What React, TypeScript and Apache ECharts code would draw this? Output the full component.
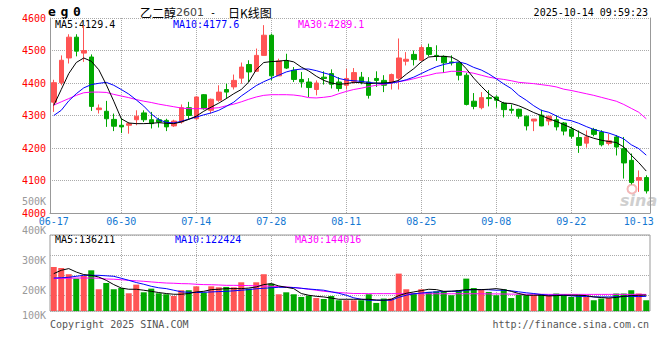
import React, { useEffect, useRef } from 'react';
import * as echarts from 'echarts';

const dates = ['06-17','06-18','06-19','06-20','06-23','06-24','06-25','06-26','06-27','06-30',
'07-01','07-02','07-03','07-04','07-07','07-08','07-09','07-10','07-11','07-14',
'07-15','07-16','07-17','07-18','07-21','07-22','07-23','07-24','07-25','07-28',
'07-29','07-30','07-31','08-01','08-04','08-05','08-06','08-07','08-08','08-11',
'08-12','08-13','08-14','08-15','08-18','08-19','08-20','08-21','08-22','08-25',
'08-26','08-27','08-28','08-29','09-01','09-02','09-03','09-04','09-05','09-08',
'09-09','09-10','09-11','09-12','09-15','09-16','09-17','09-18','09-19','09-22',
'09-23','09-24','09-25','09-26','09-29','09-30','10-09','10-10','10-13','10-14'];

const opens = [4341,4401,4477,4541,4492,4480,4318,4313,4288,4270,
4270,4287,4308,4287,4287,4285,4268,4280,4324,4290,
4364,4316,4347,4380,4388,4415,4457,4436,4485,4547,
4422,4468,4439,4411,4403,4380,4418,4429,4403,4393,
4405,4418,4403,4414,4408,4403,4415,4467,4488,4470,
4509,4485,4482,4465,4462,4424,4344,4324,4355,4357,
4338,4319,4319,4298,4283,4301,4283,4287,4277,4258,
4232,4215,4257,4249,4214,4234,4198,4162,4101,4109];

const closes = [4401,4470,4541,4498,4500,4328,4323,4290,4267,4265,
4275,4298,4287,4275,4280,4265,4283,4324,4300,4357,
4321,4350,4372,4372,4408,4449,4434,4485,4547,4422,
4468,4446,4411,4403,4386,4400,4414,4396,4383,4414,
4432,4403,4362,4408,4393,4426,4477,4473,4472,4509,
4488,4482,4462,4462,4424,4334,4328,4355,4352,4347,
4318,4316,4298,4268,4289,4268,4298,4265,4252,4236,
4208,4234,4242,4210,4222,4203,4154,4094,4109,4068];

const lows = [4311,4393,4460,4482,4465,4314,4306,4265,4252,4246,
4244,4270,4280,4260,4263,4252,4265,4275,4287,4287,
4318,4306,4342,4352,4380,4398,4403,4434,4485,4408,
4422,4443,4403,4386,4357,4362,4395,4383,4374,4380,
4398,4396,4352,4388,4372,4380,4380,4454,4454,4468,
4482,4468,4431,4454,4408,4331,4319,4319,4328,4324,
4294,4306,4290,4254,4252,4267,4270,4254,4239,4229,
4185,4201,4236,4205,4208,4177,4106,4088,4065,4060];

const highs = [4410,4485,4550,4550,4578,4488,4334,4345,4306,4293,
4280,4316,4316,4311,4293,4290,4287,4334,4342,4359,
4366,4352,4393,4398,4426,4463,4470,4506,4578,4552,
4475,4490,4449,4434,4415,4408,4436,4442,4418,4444,
4446,4434,4418,4436,4424,4429,4537,4495,4500,4516,
4521,4516,4485,4485,4465,4431,4369,4372,4378,4362,
4342,4334,4321,4300,4289,4318,4298,4301,4280,4265,
4254,4254,4262,4255,4244,4240,4234,4183,4131,4116];

const ma5 = [4331,4380,4429,4463,4477,4467,4441,4395,4344,4290,
4277,4275,4275,4276,4278,4276,4275,4280,4288,4298,
4313,4326,4338,4352,4367,4380,4403,4441,4463,4466,
4467,4470,4465,4449,4437,4421,4408,4400,4396,4398,
4402,4401,4398,4400,4400,4402,4408,4427,4444,4465,
4480,4482,4482,4480,4468,4444,4415,4390,4367,4350,
4338,4337,4330,4320,4309,4300,4290,4282,4272,4262,
4250,4238,4230,4224,4220,4217,4203,4178,4155,4129];

const ma10 = [4300,4316,4345,4367,4385,4395,4399,4402,4393,4380,
4366,4348,4329,4305,4287,4279,4277,4282,4289,4295,
4302,4308,4316,4328,4341,4360,4376,4392,4404,4414,
4424,4434,4440,4443,4443,4438,4431,4425,4414,4409,
4407,4405,4402,4399,4398,4400,4404,4410,4418,4429,
4440,4450,4457,4462,4465,4459,4448,4440,4428,4413,
4397,4383,4362,4347,4330,4316,4310,4299,4288,4284,
4276,4266,4257,4251,4246,4238,4228,4210,4198,4178];

const ma30 = [4332,4342,4352,4362,4370,4372,4372,4371,4365,4360,
4355,4349,4344,4340,4335,4331,4327,4323,4321,4321,
4321,4322,4324,4330,4335,4342,4350,4357,4362,4364,
4364,4364,4363,4360,4355,4354,4356,4359,4367,4374,
4380,4384,4389,4393,4396,4400,4404,4408,4413,4419,
4424,4430,4432,4436,4436,4434,4430,4424,4418,4414,
4411,4407,4402,4400,4398,4395,4392,4388,4381,4377,
4372,4367,4362,4356,4350,4344,4334,4322,4310,4290];

const volumes = [360000,352000,301000,265000,287000,333000,178000,229000,178000,188000,
145000,216000,153000,183000,145000,137000,123000,170000,170000,202000,
151000,202000,194000,197000,194000,235000,183000,235000,301000,224000,
137000,153000,137000,115000,126000,106000,98000,123000,88000,88000,
88000,88000,137000,66000,102000,102000,306000,178000,147000,178000,
156000,161000,161000,129000,170000,265000,188000,178000,156000,129000,
178000,106000,134000,129000,129000,137000,129000,143000,129000,115000,
129000,115000,88000,102000,106000,143000,143000,170000,143000,88000];

const volMa5 = [306000,333000,347000,319000,298000,292000,278000,251000,216000,188000,
178000,178000,170000,161000,151000,143000,137000,137000,143000,156000,
161000,175000,178000,183000,183000,183000,188000,197000,216000,224000,
205000,194000,183000,143000,129000,120000,115000,106000,96000,96000,
96000,96000,96000,90000,88000,96000,126000,145000,156000,167000,
178000,175000,161000,162000,167000,175000,175000,175000,178000,183000,
175000,161000,143000,129000,129000,129000,123000,126000,129000,129000,
129000,126000,115000,110000,106000,111000,120000,126000,129000,130000];

const volMa10 = [270000,272000,276000,284000,292000,292000,292000,288000,284000,268000,
251000,233000,219000,202000,190000,183000,170000,157000,153000,151000,
153000,156000,159000,161000,165000,170000,175000,182000,186000,190000,
194000,194000,192000,186000,180000,175000,170000,157000,145000,129000,
108000,96000,88000,88000,88000,88000,112000,129000,141000,147000,
153000,156000,159000,161000,161000,170000,175000,175000,174000,170000,
170000,165000,157000,149000,143000,135000,129000,129000,129000,124000,
120000,119000,116000,115000,115000,116000,119000,120000,118000,120000];

const volMa30 = [265000,268000,268000,270000,270000,270000,268000,262000,260000,256000,
251000,247000,243000,238000,233000,229000,227000,224000,223000,219000,
216000,215000,213000,210000,210000,209000,208000,206000,205000,202000,
200000,197000,192000,186000,178000,170000,161000,156000,151000,147000,
143000,143000,142000,142000,142000,142000,142000,141000,141000,141000,
141000,141000,141000,141000,141000,141000,141000,141000,140000,140000,
139000,138000,138000,137000,137000,137000,136000,136000,136000,136000,
136000,136000,136000,136000,136000,136000,136000,136000,136000,136000];

const xTickLabels = ['06-17','06-30','07-14','07-28','08-11','08-25','09-08','09-22','10-13'];
const gridDates = ['06-30','07-14','07-28','08-11','08-25','09-08','09-22'];
const volTickValues = [100000, 200000, 300000, 400000, 500000];
const volTickLabels = ['100K', '200K', '300K', '400K', '500K'];
const priceMaLabels = ['MA5:4129.4', 'MA10:4177.6', 'MA30:4289.1'];
const volMaLabels = ['MA5:136211', 'MA10:122424', 'MA30:144016'];

const RED = '#ff5454';
const GREEN = '#00a800';
const MA_COLORS = ['#000000', '#0000ff', '#ff00ff'];
const MONO = '"DejaVu Sans Mono", monospace';
const GRIDLINE = { color: '#aaa', type: [1, 1] as any, width: 1 };

export default function App() {
  const ref = useRef<HTMLDivElement>(null);
  useEffect(() => {
    const chart = echarts.init(ref.current!, null, { renderer: 'svg' });
    const kData = dates.map((_, i) => [opens[i], closes[i], lows[i], highs[i]]);
    const volData = volumes.map((v, i) => ({
      value: v,
      itemStyle: { color: closes[i] >= opens[i] ? RED : GREEN },
    }));
    const vMark = {
      silent: true,
      z: 1,
      symbol: ['none', 'none'],
      label: { show: false },
      lineStyle: GRIDLINE,
      emphasis: { disabled: true },
      data: gridDates.map((d) => ({ xAxis: d })),
    };
    const maLine = (data: number[], color: string, xi: number, yi: number) => ({
      type: 'line',
      xAxisIndex: xi,
      yAxisIndex: yi,
      data,
      symbol: 'none',
      showSymbol: false,
      z: 3,
      lineStyle: { color, width: 1 },
      itemStyle: { color },
      silent: true,
    });
    const textEl = (text: string, x: number, y: number, fill: string, extra: any = {}) => ({
      type: 'text',
      x,
      y,
      silent: true,
      style: { text, fill, fontSize: 10, fontFamily: MONO, verticalAlign: 'middle', ...extra },
    });

    const option: any = {
      animation: false,
      backgroundColor: '#ffffff',
      grid: [
        { left: 50, right: 10, top: 18, height: 195, outerBoundsMode: 'none' },
        { left: 50, right: 10, top: 235, height: 76, show: true, borderColor: '#999', borderWidth: 1, backgroundColor: 'transparent', outerBoundsMode: 'none' },
        { left: 50, right: 10, top: 201, height: 119, outerBoundsMode: 'none' },
      ],
      xAxis: [
        {
          type: 'category', gridIndex: 0, data: dates, boundaryGap: true,
          axisLine: { show: true, lineStyle: { color: '#999', width: 1 } },
          axisTick: { show: false },
          axisLabel: {
            interval: (_i: number, v: string) => xTickLabels.includes(v),
            color: '#1478d2', fontFamily: MONO, fontSize: 10, margin: 3,
          },
          splitLine: { show: false },
        },
        {
          type: 'category', gridIndex: 1, data: dates, boundaryGap: true,
          axisLine: { show: false }, axisTick: { show: false }, axisLabel: { show: false }, splitLine: { show: false },
        },
        { type: 'value', gridIndex: 2, show: false, min: 0, max: 1 },
      ],
      yAxis: [
        {
          type: 'value', gridIndex: 0, min: 4000, max: 4600, interval: 100, position: 'left',
          axisLine: { show: true, lineStyle: { color: '#999' } },
          axisTick: { show: false },
          axisLabel: { color: '#ff0000', fontFamily: MONO, fontSize: 10, margin: 4, formatter: (v: number) => String(v) },
          splitLine: { show: true, lineStyle: GRIDLINE },
        },
        {
          type: 'value', gridIndex: 0, min: 4000, max: 4600, position: 'right',
          axisLine: { show: true, lineStyle: { color: '#999' } },
          axisTick: { show: false }, axisLabel: { show: false }, splitLine: { show: false },
        },
        { type: 'value', gridIndex: 1, min: 0, max: 622000, show: false, position: 'left' },
        {
          type: 'value', gridIndex: 1, inverse: true, min: 0, max: 76, interval: 20, position: 'right',
          axisLine: { show: false }, axisTick: { show: false }, axisLabel: { show: false },
          splitLine: { show: true, lineStyle: GRIDLINE },
        },
        {
          type: 'value', gridIndex: 2, min: 100000, max: 500000, interval: 100000, position: 'left',
          axisLine: { show: false }, axisTick: { show: false }, splitLine: { show: false },
          axisLabel: {
            color: '#999', fontFamily: MONO, fontSize: 10, margin: 4,
            verticalAlignMinLabel: 'bottom',
            formatter: (v: number) => volTickLabels[volTickValues.indexOf(v)] ?? '',
          },
        },
      ],
      series: [
        {
          type: 'candlestick', xAxisIndex: 0, yAxisIndex: 0, data: kData, barWidth: 5, z: 2, silent: true,
          itemStyle: { color: RED, color0: GREEN, borderColor: RED, borderColor0: GREEN, borderWidth: 1 },
          markLine: vMark,
        },
        maLine(ma30, MA_COLORS[2], 0, 0),
        maLine(ma10, MA_COLORS[1], 0, 0),
        maLine(ma5, MA_COLORS[0], 0, 0),
        {
          type: 'bar', xAxisIndex: 1, yAxisIndex: 2, data: volData, barWidth: 6, z: 2, silent: true,
          markLine: vMark,
        },
        maLine(volMa30, MA_COLORS[2], 1, 2),
        maLine(volMa10, MA_COLORS[1], 1, 2),
        maLine(volMa5, MA_COLORS[0], 1, 2),
      ],
      graphic: [
        {
          type: 'text', x: 48, y: 11, silent: true,
          style: {
            text: '{s|e}{s|g}{s|0}',
            verticalAlign: 'middle',
            rich: { s: { width: 12.5, fontSize: 13, fontWeight: 'bold', fontFamily: MONO, fill: '#000' } },
          },
        },
        {
          type: 'text', x: 140, y: 12, silent: true,
          style: {
            text: '{a|乙二醇}{b|2601}{c| -  }{a|日K线图}',
            verticalAlign: 'middle',
            rich: {
              a: { fontSize: 12, fontFamily: '"Noto Sans CJK SC"', fill: '#000' },
              b: { fontSize: 11, fontFamily: '"DejaVu Sans"', fill: '#444' },
              c: { fontSize: 10, fontFamily: MONO, fill: '#000' },
            },
          },
        },
        textEl('2025-10-14 09:59:23', 648, 12, '#000', { align: 'right' }),
        textEl(priceMaLabels[0], 55, 24.5, MA_COLORS[0]),
        textEl(priceMaLabels[1], 173, 24.5, MA_COLORS[1]),
        textEl(priceMaLabels[2], 298, 24.5, MA_COLORS[2]),
        textEl(volMaLabels[0], 55, 239, MA_COLORS[0]),
        textEl(volMaLabels[1], 175, 239, MA_COLORS[1]),
        textEl(volMaLabels[2], 295, 239, MA_COLORS[2]),
        textEl('Copyright 2025 SINA.COM', 50, 324, '#555'),
        textEl('http://finance.sina.com.cn', 649, 324, '#555', { align: 'right' }),
        {
          type: 'circle', silent: true,
          shape: { cx: 632, cy: 189, r: 4.5 },
          style: { fill: 'none', stroke: '#f3b8b8', lineWidth: 2 },
        },
        textEl('sina', 620, 200, '#cfcfcf', { fontSize: 16, fontWeight: 'bold', fontStyle: 'italic', fontFamily: '"DejaVu Sans"' }),
      ],
    };
    chart.setOption(option);
    return () => chart.dispose();
  }, []);
  return (
    <div
      ref={ref}
      style={{ position: 'fixed', left: 0, top: 0, width: 660, height: 360, background: '#fff' }}
    />
  );
}
